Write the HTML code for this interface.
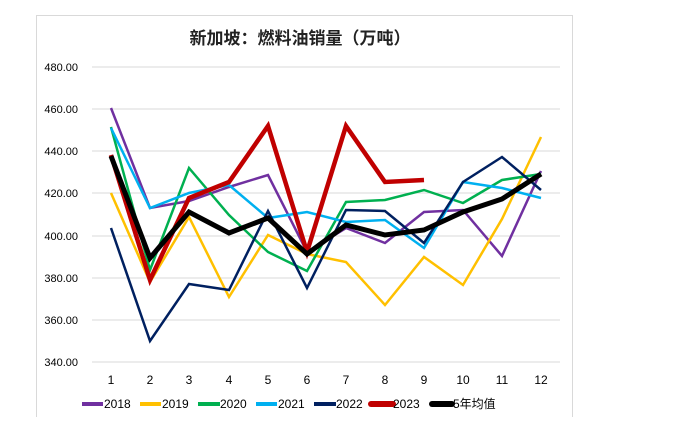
<!DOCTYPE html>
<html><head><meta charset="utf-8"><style>
body{margin:0;background:#fff;width:695px;height:417px;overflow:hidden}
svg text{font-family:"Liberation Sans","Noto Sans CJK SC",sans-serif}
</style></head><body>
<svg width="695" height="417" xmlns="http://www.w3.org/2000/svg">
<rect x="36.5" y="15.5" width="536" height="410" fill="#fff" stroke="#d9d9d9"/>
<text x="300" y="44" text-anchor="middle" font-size="17" font-weight="bold" fill="#222">新加坡：燃料油销量（万吨）</text>
<g stroke="#d9d9d9" stroke-width="1">
<line x1="92" x2="560" y1="67" y2="67"/><line x1="92" x2="560" y1="109" y2="109"/><line x1="92" x2="560" y1="151" y2="151"/><line x1="92" x2="560" y1="193" y2="193"/><line x1="92" x2="560" y1="236" y2="236"/><line x1="92" x2="560" y1="278" y2="278"/><line x1="92" x2="560" y1="320" y2="320"/><line x1="92" x2="560" y1="362" y2="362"/>
</g>
<g font-size="11" fill="#000" text-anchor="end">
<text x="78" y="71">480.00</text><text x="78" y="113">460.00</text><text x="78" y="155">440.00</text><text x="78" y="197">420.00</text><text x="78" y="240">400.00</text><text x="78" y="282">380.00</text><text x="78" y="324">360.00</text><text x="78" y="366">340.00</text>
</g>
<g font-size="12" fill="#000" text-anchor="middle">
<text x="111" y="384">1</text><text x="150" y="384">2</text><text x="189" y="384">3</text><text x="229" y="384">4</text><text x="268" y="384">5</text><text x="307" y="384">6</text><text x="346" y="384">7</text><text x="385" y="384">8</text><text x="424" y="384">9</text><text x="463" y="384">10</text><text x="502" y="384">11</text><text x="541" y="384">12</text>
</g>
<g fill="none" stroke-linejoin="miter">
<polyline stroke="#7030a0" stroke-width="2.5" points="111,108 150,208 189,201 229,187 268,175 307,252 346,228 385,243 424,212 463,210 502,256 541,171"/>
<polyline stroke="#ffc000" stroke-width="2.5" points="111,193 150,282 189,217 229,297 268,235 307,254 346,262 385,305 424,257 463,285 502,219 541,137"/>
<polyline stroke="#00b050" stroke-width="2.5" points="111,127 150,270 189,168 229,215 268,252 307,271 346,202 385,200 424,190 463,203 502,180 541,174"/>
<polyline stroke="#00b0f0" stroke-width="2.5" points="111,128 150,208 189,193 229,185 268,218 307,212 346,222 385,220 424,248 463,182 502,188 541,198"/>
<polyline stroke="#002060" stroke-width="2.5" points="111,228 150,341 189,284 229,290 268,211 307,288 346,210 385,211 424,243 463,182 502,157 541,190"/>
<polyline stroke="#c00000" stroke-width="4.5" points="111,155 150,280 189,198 229,182 268,126 307,252 346,126 385,182 424,180"/>
<polyline stroke="#000" stroke-width="5" points="111,156 150,258 189,212 229,233 268,218 307,254 346,225 385,235 424,230 463,212 502,199 541,174"/>
</g>
<g stroke-width="4" font-size="12">
<line x1="82" x2="103" y1="404" y2="404" stroke="#7030a0"/><text x="104" y="408">2018</text>
<line x1="140" x2="161" y1="404" y2="404" stroke="#ffc000"/><text x="162" y="408">2019</text>
<line x1="198" x2="220" y1="404" y2="404" stroke="#00b050"/><text x="220" y="408">2020</text>
<line x1="256" x2="277" y1="404" y2="404" stroke="#00b0f0"/><text x="278" y="408">2021</text>
<line x1="314" x2="336" y1="404" y2="404" stroke="#002060"/><text x="336" y="408">2022</text>
<line x1="371" x2="393" y1="404" y2="404" stroke="#c00000" stroke-width="6" stroke-linecap="round"/><text x="393" y="408">2023</text>
<line x1="432" x2="452" y1="404" y2="404" stroke="#000" stroke-width="6" stroke-linecap="round"/><text x="453" y="408">5年均值</text>
</g>
</svg>
</body></html>
